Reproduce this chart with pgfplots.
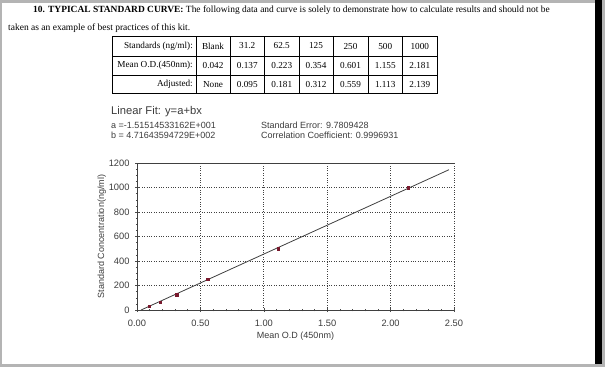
\documentclass[border=0pt]{standalone}
\usepackage{fontspec}
\setmainfont{Liberation Serif}
\setsansfont{Liberation Sans}
\usepackage{pgfplots}
\pgfplotsset{compat=1.18}
\definecolor{bordergray}{RGB}{180,180,180}
\definecolor{markred}{RGB}{120,25,45}
\definecolor{txtgray}{RGB}{60,60,60}
\begin{document}
\begin{tikzpicture}
\path[use as bounding box] (0pt,0pt) rectangle (605pt,367pt);
\fill[bordergray] (0pt,0pt) rectangle (605pt,367pt);
\fill[white] (2pt,3pt) rectangle (595pt,364pt);
\fill[black] (595pt,3pt) rectangle (602pt,367pt);
% heading text
\node[anchor=base west, inner sep=0pt, font=\fontsize{9.45}{11}\selectfont] at (33pt,354pt)
  {\textbf{10. TYPICAL STANDARD CURVE:} The following data and curve is solely to demonstrate how to calculate results and should not be};
\node[anchor=base west, inner sep=0pt, font=\fontsize{9.5}{11}\selectfont] at (8pt,336pt)
  {taken as an example of best practices of this kit.};
% table
\draw[line width=0.7pt] (112pt,273.5pt) rectangle (437pt,331pt);
\foreach \y in {311,292} \draw[line width=0.6pt] (112pt,\y pt) -- (437pt,\y pt);
\foreach \x in {196,230,264.5,299,333,368,402.5} \draw[line width=0.6pt] (\x pt,273.5pt) -- (\x pt,331pt);
\begin{scope}[every node/.style={inner sep=0pt, font=\fontsize{9.2}{10}\selectfont}]
\node[anchor=east] at (193pt,321pt) {Standards (ng/ml):};
\node[anchor=east] at (193pt,301.5pt) {Mean O.D.(450nm):};
\node[anchor=east] at (193pt,282.75pt) {Adjusted:};
\foreach \x/\t in {213/Blank,247.25/31.2,281.75/62.5,316/125,350.5/250,385.25/500,419.75/1000}
  \node at (\x pt,321pt) {\t};
\foreach \x/\t in {213/0.042,247.25/0.137,281.75/0.223,316/0.354,350.5/0.601,385.25/1.155,419.75/2.181}
  \node at (\x pt,301.5pt) {\t};
\foreach \x/\t in {213/None,247.25/0.095,281.75/0.181,316/0.312,350.5/0.559,385.25/1.113,419.75/2.139}
  \node at (\x pt,282.75pt) {\t};
\end{scope}
% fit text
\node[anchor=west, inner sep=0pt, text=txtgray, font=\sffamily\fontsize{11.2}{12}\selectfont] at (111pt,255.3pt) {Linear Fit: y=a+bx};
\begin{scope}[every node/.style={anchor=west, inner sep=0pt, text=txtgray, font=\sffamily\fontsize{9}{10}\selectfont}]
\node at (111pt,242pt) {a =-1.51514533162E+001};
\node at (111pt,232pt) {b = 4.71643594729E+002};
\node at (261pt,242pt) {Standard Error: 9.7809428};
\node at (261pt,232pt) {Correlation Coefficient: 0.9996931};
\end{scope}
\begin{axis}[
  at={(137pt,57pt)}, anchor=south west, scale only axis,
  width=317pt, height=147pt,
  xmin=0, xmax=2.5, ymin=0, ymax=1200,
  axis x line*=bottom, axis y line*=left,
  axis line style={black!75, line width=0.8pt},
  xtick={0,0.5,1,1.5,2,2.5}, ytick={0,200,400,600,800,1000,1200},
  minor x tick num=4, minor y tick num=3,
  tick align=center, major tick length=4pt, minor tick length=2.5pt,
  tick style={black!70, line width=0.5pt},
  grid=major, major grid style={black!75, dotted, line width=0.8pt},
  /pgf/number format/assume math mode=true,
  /pgf/number format/1000 sep={},
  ticklabel style={font=\sffamily\fontsize{9.3}{10}\selectfont, text=txtgray},
  xticklabel style={/pgf/number format/fixed, /pgf/number format/fixed zerofill, /pgf/number format/precision=2, yshift=-4pt},
  yticklabel style={xshift=-2pt},
  xlabel={Mean O.D (450nm)}, ylabel={Standard Concentration(ng/ml)},
  label style={font=\sffamily\fontsize{9}{10}\selectfont, text=txtgray},
  xlabel style={at={(axis description cs:0.5,-0.177)}, anchor=center},
  ylabel style={at={(axis description cs:-0.111,0.5)}, anchor=center},
]
\addplot[gray!50!black, line width=0.8pt] coordinates {(0.0321,0) (2.46,1145)};
\addplot[only marks, mark=square*, mark size=1.2pt, markred] coordinates {
  (0.095,31.2) (0.181,62.5) (0.312,125) (0.559,250) (1.113,500) (2.139,1000)};
\draw[black!75, line width=0.8pt] (rel axis cs:0,1) -- (rel axis cs:1,1);
\end{axis}
\end{tikzpicture}
\end{document}
